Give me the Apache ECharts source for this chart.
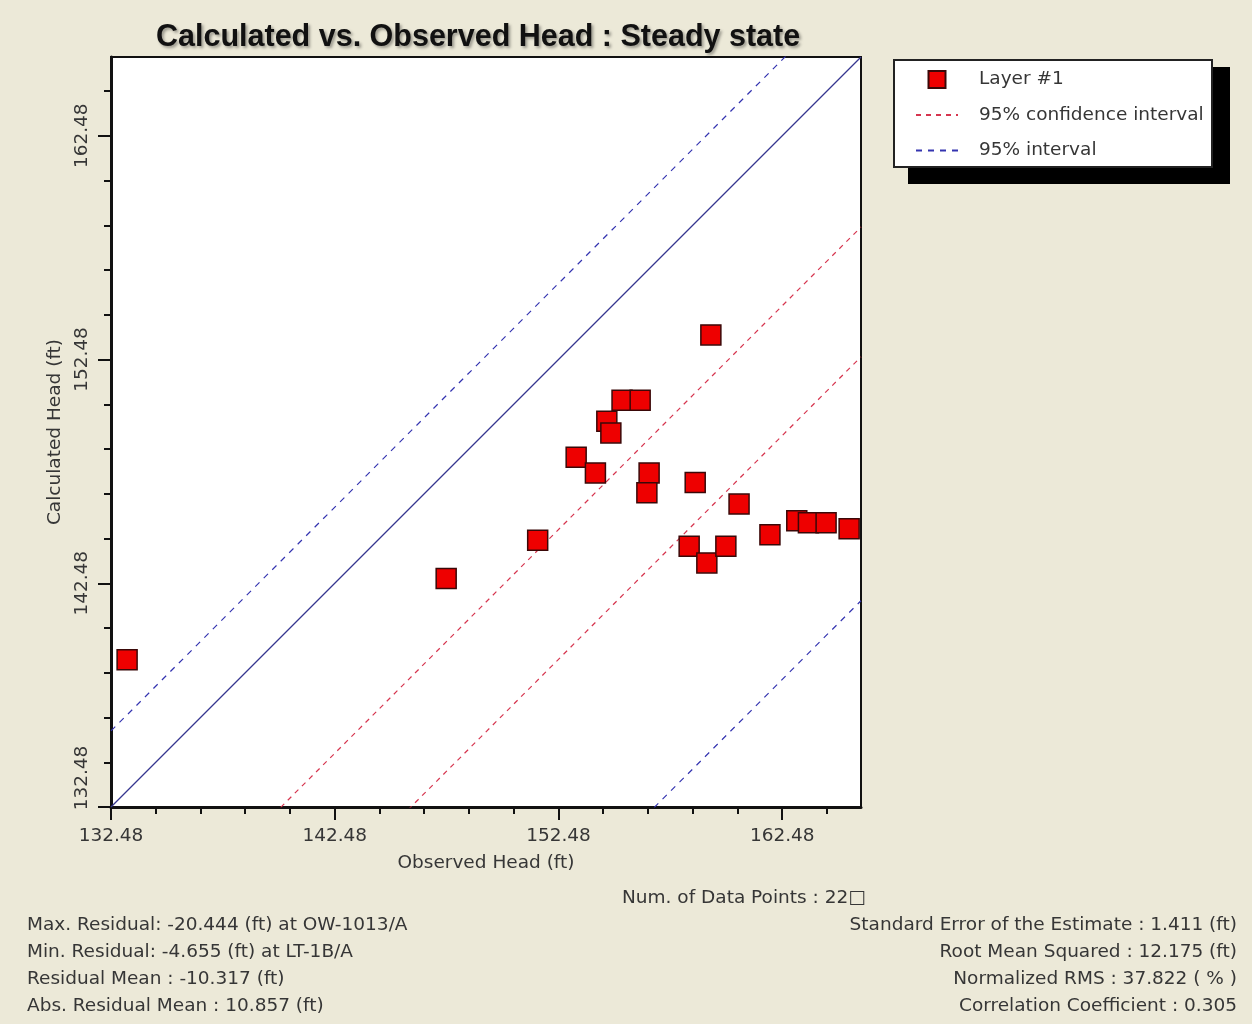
<!DOCTYPE html>
<html>
<head>
<meta charset="utf-8">
<script src="https://cdn.jsdelivr.net/npm/echarts@6/dist/echarts.min.js"></script>
<style>
  html, body { margin: 0; padding: 0; background: #ECE9D8; }
  #chart { width: 1252px; height: 1024px; }
</style>
</head>
<body>
<div id="chart"></div>
<script>
// observed / calculated head (ft), Layer #1
const observed = [133.20, 147.46, 151.55, 153.27, 154.13, 154.64, 154.82, 155.32, 156.13, 156.53, 156.43,
                  158.59, 159.29, 158.32, 159.11, 159.96, 160.55, 161.93, 163.13, 163.65, 164.44, 165.47];
const calculated = [139.06, 142.69, 144.40, 148.11, 147.41, 149.72, 149.20, 150.66, 150.66, 147.41, 146.53,
                    146.98, 153.58, 144.13, 143.39, 144.13, 146.02, 144.65, 145.27, 145.18, 145.18, 144.92];

// offsets (calc - obs) of the reference lines
const confOffsets = [-7.6, -13.4];
const predOffsets = [3.4, -24.3];

const axisMin = 132.48;
const axisMax = 166.0;
const majorTicks = [132.48, 142.48, 152.48, 162.48];
const minorTicks = [134.48, 136.48, 138.48, 140.48, 144.48, 146.48, 148.48, 150.48,
                    154.48, 156.48, 158.48, 160.48, 164.48];

const leftStats = [
  'Max. Residual: -20.444 (ft) at OW-1013/A',
  'Min. Residual: -4.655 (ft) at LT-1B/A',
  'Residual Mean : -10.317 (ft)',
  'Abs. Residual Mean : 10.857 (ft)'
];
const rightStats = [
  'Standard Error of the Estimate : 1.411 (ft)',
  'Root Mean Squared : 12.175 (ft)',
  'Normalized RMS : 37.822 ( % )',
  'Correlation Coefficient : 0.305'
];
const countText = 'Num. of Data Points : 22\u25A1';

const FONT = '"DejaVu Sans", sans-serif';
const TXT = '#363636';

function offsetLine(off) {
  return [[axisMin, axisMin + off], [axisMax, axisMax + off]];
}

function lineSeries(name, off, color, type) {
  return {
    name: name,
    type: 'line',
    data: offsetLine(off),
    symbol: 'none',
    silent: true,
    clip: true,
    lineStyle: {color: color, width: 1.2, type: type},
    itemStyle: {color: color},
    z: 2
  };
}

const chart = echarts.init(document.getElementById('chart'));

const points = observed.map((x, i) => [x, calculated[i]]);

let graphics = [
  {type: 'rect', shape: {x: 908, y: 67, width: 322, height: 117}, style: {fill: '#000'}, z: 1},
  {type: 'rect', shape: {x: 894, y: 60, width: 318, height: 107}, style: {fill: '#fff', stroke: '#222', lineWidth: 2}, z: 1},
  {type: 'text', left: 622, top: 889, style: {text: countText, font: '18.5px ' + FONT, fill: TXT}, z: 1}
];
leftStats.forEach((s, i) => {
  graphics.push({type: 'text', left: 27, top: 916 + i * 27,
    style: {text: s, font: '18.5px ' + FONT, fill: TXT}, z: 1});
});
rightStats.forEach((s, i) => {
  graphics.push({type: 'text', right: 15, top: 916 + i * 27,
    style: {text: s, font: '18.5px ' + FONT, fill: TXT}, z: 1});
});

const tickLine = {color: '#111', width: 2};
const hideSymbol = {opacity: 0};

const option = {
  backgroundColor: '#ECE9D8',
  animation: false,
  title: {
    text: 'Calculated vs. Observed Head : Steady state',
    left: 156,
    top: 22,
    padding: 0,
    textStyle: {
      fontFamily: '"Liberation Sans", Arial, sans-serif',
      fontSize: 30.5,
      fontWeight: 'bold',
      color: '#111',
      textShadowColor: 'rgba(0,0,0,0.35)',
      textShadowBlur: 3,
      textShadowOffsetX: 2,
      textShadowOffsetY: 2
    }
  },
  legend: {
    orient: 'vertical',
    left: 915,
    top: 70,
    padding: 0,
    itemWidth: 42,
    itemHeight: 17,
    itemGap: 16.5,
    z: 10,
    data: [
      {name: 'Layer #1', icon: 'path://M0,0H10V10H0Z'},
      {name: '95% confidence interval', itemStyle: hideSymbol},
      {name: '95% interval', itemStyle: hideSymbol}
    ],
    textStyle: {fontFamily: FONT, fontSize: 18.5, color: TXT, padding: [0, 0, 0, 16]}
  },
  grid: {
    left: 111, top: 57, width: 750, height: 750,
    show: true, backgroundColor: '#fff', borderColor: '#111', borderWidth: 2
  },
  xAxis: [
    {
      type: 'value', min: axisMin, max: axisMax, position: 'bottom',
      name: 'Observed Head (ft)', nameLocation: 'middle', nameGap: 47,
      nameTextStyle: {fontFamily: FONT, fontSize: 18.5, color: TXT},
      axisLine: {show: true, lineStyle: {color: '#111', width: 3}},
      axisTick: {show: true, length: 13, lineStyle: tickLine, customValues: majorTicks},
      axisLabel: {show: true, margin: 20, fontFamily: FONT, fontSize: 18.5, color: TXT,
        customValues: majorTicks, formatter: v => v.toFixed(2)},
      splitLine: {show: false}
    },
    {
      type: 'value', min: axisMin, max: axisMax, position: 'bottom',
      axisLine: {show: false},
      axisTick: {show: true, length: 7, lineStyle: tickLine, customValues: minorTicks},
      axisLabel: {show: false},
      splitLine: {show: false}
    }
  ],
  yAxis: [
    {
      type: 'value', min: axisMin, max: axisMax, position: 'left',
      name: 'Calculated Head (ft)', nameLocation: 'middle', nameGap: 42,
      nameTextStyle: {fontFamily: FONT, fontSize: 18.5, color: TXT},
      axisLine: {show: true, lineStyle: {color: '#111', width: 3}},
      axisTick: {show: true, length: 13, lineStyle: tickLine, customValues: majorTicks},
      axisLabel: {show: true, margin: 19, rotate: 90, fontFamily: FONT, fontSize: 18.5, color: TXT,
        customValues: majorTicks,
        // lowest label is pushed up so it clears the corner
        formatter: v => v === axisMin ? '{low|' + v.toFixed(2) + '}' : v.toFixed(2),
        rich: {low: {fontFamily: FONT, fontSize: 18.5, color: TXT, padding: [0, 0, 0, 58]}}},
      splitLine: {show: false}
    },
    {
      type: 'value', min: axisMin, max: axisMax, position: 'left',
      axisLine: {show: false},
      axisTick: {show: true, length: 7, lineStyle: tickLine, customValues: minorTicks},
      axisLabel: {show: false},
      splitLine: {show: false}
    }
  ],
  graphic: graphics,
  series: [
    lineSeries('1:1', 0, '#36368f', 'solid'),
    lineSeries('95% interval', predOffsets[0], '#3434b0', [6, 6]),
    lineSeries('95% interval', predOffsets[1], '#3434b0', [6, 6]),
    lineSeries('95% confidence interval', confOffsets[0], '#d6354f', [5, 5]),
    lineSeries('95% confidence interval', confOffsets[1], '#d6354f', [5, 5]),
    {
      name: 'Layer #1',
      type: 'scatter',
      data: points,
      symbol: 'rect',
      symbolSize: 20,
      itemStyle: {color: '#ee0000', borderColor: '#3a0808', borderWidth: 1.5, opacity: 1},
      z: 5
    }
  ]
};

chart.setOption(option);
</script>
</body>
</html>
